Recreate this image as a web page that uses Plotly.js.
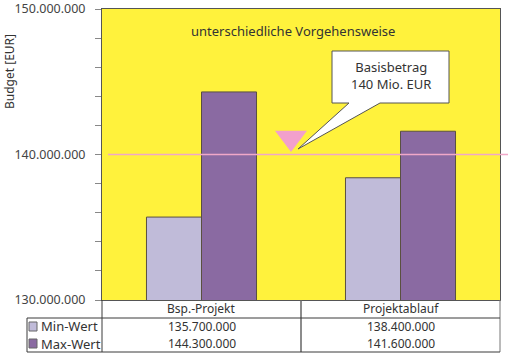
<!DOCTYPE html>
<html>
<head>
<meta charset="utf-8">
<script src="https://cdn.plot.ly/plotly-3.0.1.min.js"></script>
<style>html,body{margin:0;padding:0;background:#fff;}#chart{width:508px;height:353px;}</style>
</head>
<body>
<div id="chart"></div>
<script>
// ---- data ----
var categories = ["Bsp.-Projekt", "Projektablauf"];
var seriesNames = ["Min-Wert", "Max-Wert"];
var minValues = [135700000, 138400000];
var maxValues = [144300000, 141600000];
var baseValue = [140000000];
var yTickVals = [130000000, 132000000, 134000000, 136000000, 138000000, 140000000,
                 142000000, 144000000, 146000000, 148000000, 150000000];
var yTickText = ["130.000.000", "", "", "", "", "140.000.000", "", "", "", "", "150.000.000"];
var chartTitle = "unterschiedliche Vorgehensweise";
var yTitle = "Budget [EUR]";
var calloutText = ["Basisbetrag", "140 Mio. EUR"];

// ---- styles ----
var FONT = "Noto Sans, DejaVu Sans, sans-serif";
var TXT = "#333333";
var LINE = "#3a3a3a";
var colMin = "#c0bbd9";
var colMax = "#8a6aa2";
var colBg = "#fff23c";

function fmt(v) {
  return String(Math.round(v)).replace(/\B(?=(\d{3})+(?!\d))/g, ".");
}

var traces = [
  {type: "bar", x: categories, y: minValues, name: seriesNames[0],
   marker: {color: colMin, line: {color: "#5a5040", width: 1}}, hoverinfo: "skip"},
  {type: "bar", x: categories, y: maxValues, name: seriesNames[1],
   marker: {color: colMax, line: {color: "#5a5040", width: 1}}, hoverinfo: "skip"}
];

// layout geometry (plot area 102..500 x 9..300 px)
var L = 102, R = 500, T = 9, B = 300;
function px(x) { return (x - L) / (R - L); }
function py(y) { return (B - y) / (B - T); }

var shapes = [];
var annotations = [];

// base line at 140 Mio
shapes.push({type: "line", xref: "paper", yref: "y", x0: px(108), x1: px(508),
  y0: baseValue[0], y1: baseValue[0], line: {color: "#f0a8c8", width: 1.3}, layer: "above"});

// triangle marker
shapes.push({type: "path", xref: "paper", yref: "paper",
  path: "M " + px(275) + " " + py(130.7) + " L " + px(307) + " " + py(130.7) + " L " + px(291) + " " + py(152) + " Z",
  fillcolor: "#f2a0cc", line: {width: 0}, layer: "above"});

// callout box
shapes.push({type: "path", xref: "paper", yref: "paper",
  path: "M " + px(332) + " " + py(51) + " L " + px(449) + " " + py(51) + " L " + px(449) + " " + py(103) +
        " L " + px(380) + " " + py(103) + " L " + px(298) + " " + py(149) + " L " + px(349) + " " + py(103) +
        " L " + px(332) + " " + py(103) + " Z",
  fillcolor: "#ffffff", line: {color: "#555555", width: 1}, layer: "above"});
annotations.push({xref: "paper", yref: "paper", x: px(390.5), y: py(75.5), text: calloutText.join("<br>"),
  showarrow: false, font: {family: FONT, size: 13, color: TXT}, xanchor: "center", yanchor: "middle"});

// title
annotations.push({xref: "paper", yref: "paper", x: px(293), y: py(31), text: chartTitle, showarrow: false,
  font: {family: FONT, size: 13, color: TXT}, xanchor: "center", yanchor: "middle"});
// y title
annotations.push({xref: "paper", yref: "paper", x: px(9), y: py(72), text: yTitle, textangle: -90, showarrow: false,
  font: {family: FONT, size: 12, color: TXT}, xanchor: "center", yanchor: "middle"});

// ---- data table ----
var tl = {color: LINE, width: 1};
var yHead = 318, yEnd = 352;
shapes.push({type: "line", xref: "paper", yref: "paper", x0: px(L), x1: px(L), y0: py(B), y1: py(yEnd), line: tl});
shapes.push({type: "line", xref: "paper", yref: "paper", x0: px(R), x1: px(R), y0: py(B), y1: py(yEnd), line: {color: "#777", width: 1}});
shapes.push({type: "line", xref: "paper", yref: "paper", x0: px(301), x1: px(301), y0: py(B), y1: py(yEnd), line: {color: "#666", width: 1.5}});
shapes.push({type: "line", xref: "paper", yref: "paper", x0: px(27), x1: px(R), y0: py(yHead), y1: py(yHead), line: tl});
shapes.push({type: "line", xref: "paper", yref: "paper", x0: px(27), x1: px(R), y0: py(yEnd), y1: py(yEnd), line: tl});
shapes.push({type: "line", xref: "paper", yref: "paper", x0: px(27), x1: px(27), y0: py(yHead), y1: py(yEnd), line: tl});

var colCenters = [201.5, 400.5];
categories.forEach(function (c, i) {
  annotations.push({xref: "paper", yref: "paper", x: px(colCenters[i]), y: py(309), text: c, showarrow: false,
    font: {family: FONT, size: 12, color: TXT}, xanchor: "center", yanchor: "middle"});
});
var rows = [minValues, maxValues];
var rowY = [326.5, 343.5];
var rowCol = [colMin, colMax];
rows.forEach(function (vals, r) {
  shapes.push({type: "rect", xref: "paper", yref: "paper", x0: px(29), x1: px(37),
    y0: py(rowY[r] - 4.5), y1: py(rowY[r] + 4.5), fillcolor: rowCol[r], line: {color: "#666", width: 1}});
  annotations.push({xref: "paper", yref: "paper", x: px(39), y: py(rowY[r]), text: seriesNames[r], showarrow: false,
    font: {family: FONT, size: 13, color: TXT}, xanchor: "left", yanchor: "middle"});
  vals.forEach(function (v, i) {
    annotations.push({xref: "paper", yref: "paper", x: px(colCenters[i]), y: py(rowY[r]), text: fmt(v), showarrow: false,
      font: {family: FONT, size: 12, color: TXT}, xanchor: "center", yanchor: "middle"});
  });
});

var layout = {
  width: 508, height: 353,
  margin: {l: L, r: 508 - R, t: T, b: 353 - B, pad: 0},
  paper_bgcolor: "#ffffff",
  plot_bgcolor: colBg,
  showlegend: false,
  barmode: "group",
  bargap: 0.447,
  bargroupgap: 0,
  font: {family: FONT, color: TXT},
  xaxis: {type: "category", range: [-0.5, 1.5], showticklabels: false, ticks: "", showgrid: false, zeroline: false,
    showline: true, mirror: true, linecolor: "#555", linewidth: 1, fixedrange: true},
  yaxis: {range: [130000000, 150000000], tickmode: "array", tickvals: yTickVals, ticktext: yTickText,
    ticks: "outside", ticklen: 6, tickcolor: "#888", ticklabelstandoff: 7, showgrid: false, zeroline: false,
    showline: true, mirror: true, linecolor: "#555", linewidth: 1,
    tickfont: {family: FONT, size: 12.5, color: "#444"},
    fixedrange: true},
  shapes: shapes,
  annotations: annotations
};

Plotly.newPlot("chart", traces, layout, {displayModeBar: false, staticPlot: true});
</script>
</body>
</html>
